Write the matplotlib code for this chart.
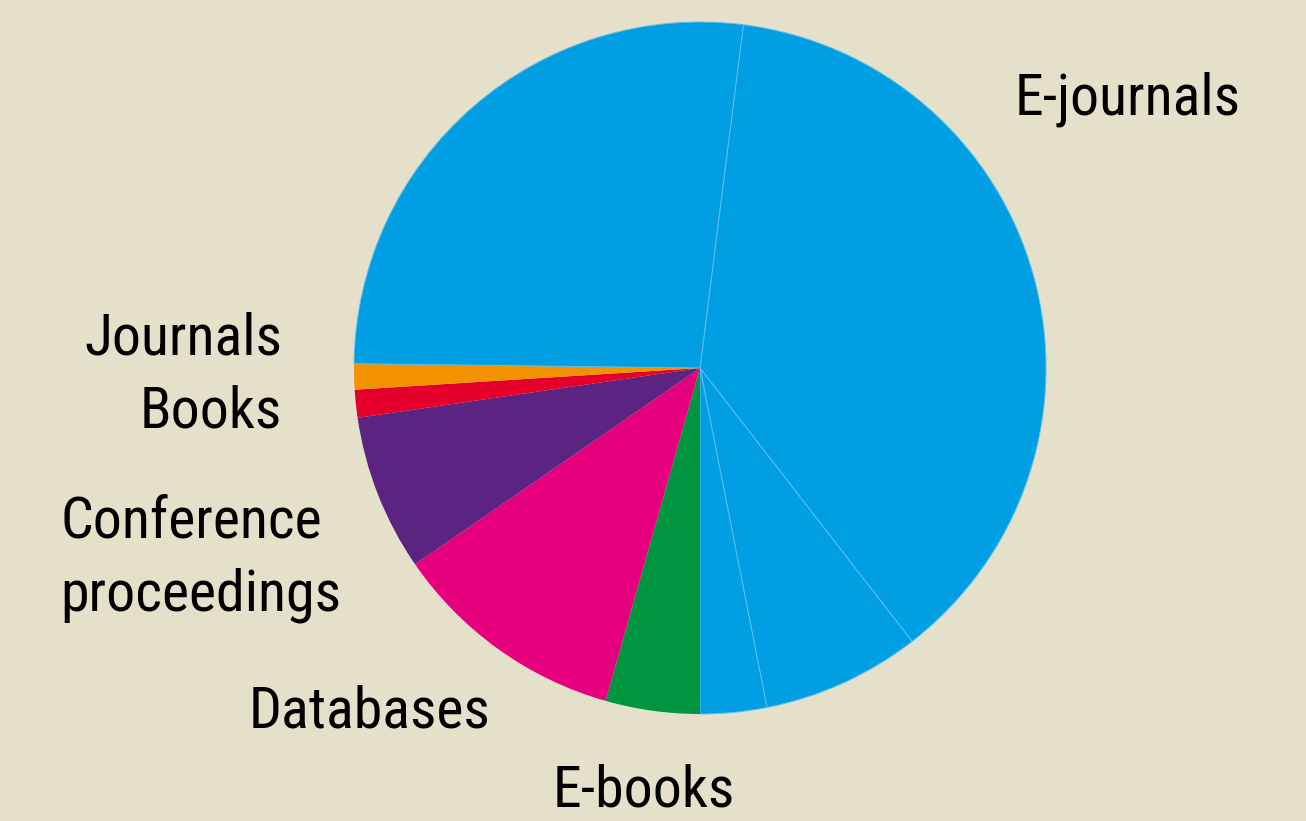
import matplotlib.pyplot as plt

# shares (percent), clockwise from the top seam
segments = ['E-journals 1', 'E-journals 2', 'E-journals 3', 'E-books', 'Databases',
            'Conference proceedings', 'Books', 'Journals', 'E-journals 4']
values = [37.5, 7.4, 3.1, 4.4, 11.0, 7.3, 1.3, 1.2, 26.8]
colors = ['#009FE3', '#009FE3', '#009FE3', '#009640', '#E6007E',
          '#5B2481', '#E4002B', '#F39200', '#009FE3']

bg = '#E5E0CA'
plt.rcParams['font.family'] = ['Roboto Condensed', 'Open Sans Condensed',
                               'DejaVu Sans Condensed', 'DejaVu Sans']
plt.rcParams['font.stretch'] = 'condensed'

fig = plt.figure(figsize=(13.06, 8.21), dpi=100, facecolor=bg)
ax = fig.add_axes([354/1306, 107/821, 692/1306, 692/821])
ax.set_facecolor(bg)

wedges, _ = ax.pie(values, colors=colors, startangle=82.8, counterclock=False,
                   wedgeprops={'linewidth': 0})
# faint seams between the blue pieces
for w, name in zip(wedges, segments):
    if name.startswith('E-journals'):
        w.set_edgecolor('#5DBDEA')
        w.set_linewidth(0.7)
ax.set_xlim(-1, 1)
ax.set_ylim(-1, 1)
ax.set_aspect('equal')
ax.axis('off')

# pick a size so "E-journals" is about as wide as in the reference (~226 px)
r = fig.canvas.get_renderer()
t = fig.text(0, 0, 'E-journals', fontsize=40)
w = t.get_window_extent(r).width
t.remove()
fs = min(44, 40 * 226 / w)

def lab(x, y, s, ha='left'):
    fig.text(x/1306, 1 - y/821, s, ha=ha, va='center', fontsize=fs, color='black',
             linespacing=1.42)

lab(1015, 99, 'E-journals')
lab(282, 339, 'Journals', ha='right')
lab(282, 412, 'Books', ha='right')
lab(60, 559, 'Conference\nproceedings')
lab(249, 712, 'Databases')
lab(553, 791, 'E-books')

fig.savefig('out.png', dpi=100, facecolor=bg)
